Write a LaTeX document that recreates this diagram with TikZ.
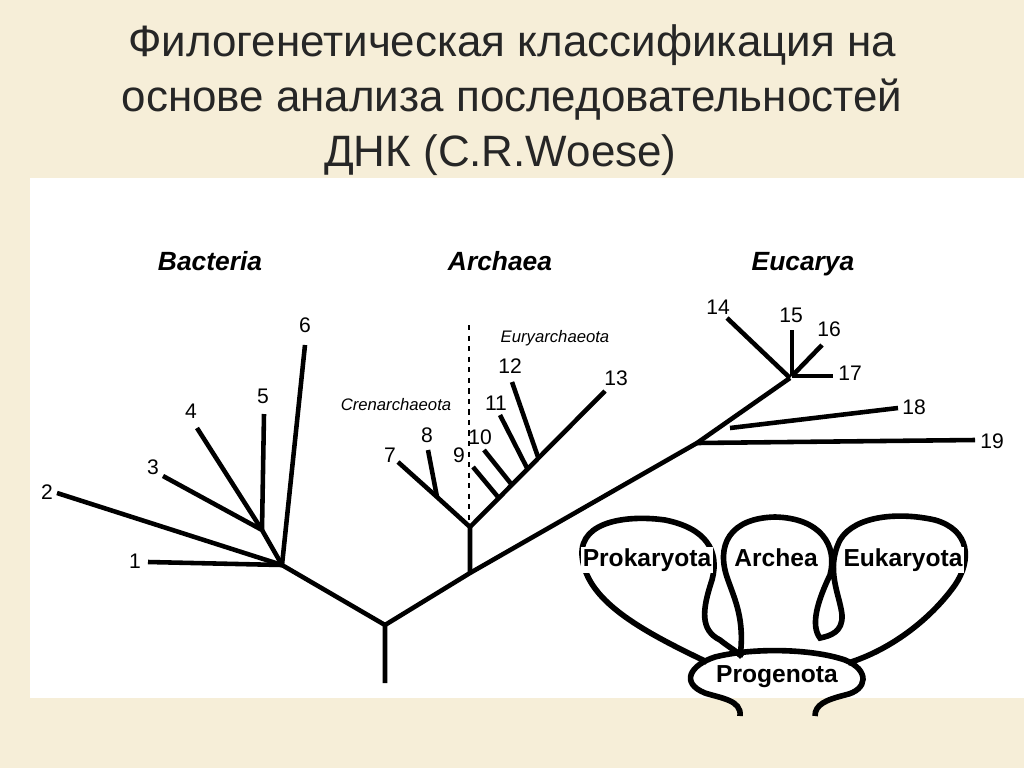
\documentclass[tikz,border=0pt]{standalone}
\usepackage{fontspec}
\setmainfont{Liberation Sans}
\begin{document}
\begin{tikzpicture}[x=0.02cm,y=-0.02cm,
  br/.style={line width=2.6pt},
  num/.style={font=\fontsize{12}{12}\selectfont},
  grp/.style={font=\fontsize{15}{15}\selectfont\bfseries\itshape,text height=11pt,text depth=3pt},
  sub/.style={font=\fontsize{9.5}{10}\selectfont\itshape},
  blob/.style={line width=3.2pt},
  bl/.style={font=\fontsize{14}{14}\selectfont\bfseries,fill=white,inner sep=1pt,text height=10pt,text depth=3pt},
  ttl/.style={font=\fontsize{25}{25}\selectfont,text=black!85}]
\fill[fill={rgb,255:red,246;green,238;blue,216}] (0,0) rectangle (1024,768);
\useasboundingbox (0,0) rectangle (1024,768);
\fill[white] (30,178) rectangle (1024,698);
\node[ttl] (t1) at (512,45) {Филогенетическая классификация на};
\node[ttl] (t2) at (512,100) {основе анализа последовательностей};
\node[ttl,anchor=west] (t3) at (318,155) {ДНК (C.R.Woese)};
% coordinates
\coordinate (root) at (385,683);
\coordinate (r) at (385,625);
\coordinate (bn) at (282,565);
\coordinate (bn2) at (262,530);
\coordinate (an) at (470,573);
\coordinate (an2) at (470,527);
\coordinate (cn) at (437,497);
\coordinate (en) at (697,443);
\coordinate (en2) at (790,378);
\coordinate (l1) at (148,562); \coordinate (l2) at (57,493);
\coordinate (l3) at (163,476); \coordinate (l4) at (197,428);
\coordinate (l5) at (264,414); \coordinate (l6) at (305,345);
\coordinate (l7) at (398,462); \coordinate (l8) at (428,450);
\coordinate (l9) at (473,467); \coordinate (l10) at (484,450);
\coordinate (l11) at (500,415); \coordinate (l12) at (512,382);
\coordinate (l13) at (605,391);
\coordinate (l14) at (727,318); \coordinate (l15) at (792,330);
\coordinate (l16) at (822,345); \coordinate (l17) at (833,376);
\coordinate (l18) at (898,408); \coordinate (l19) at (975,440);
\coordinate (e9) at (498,497); \coordinate (e10) at (512,485);
\coordinate (e11) at (527,468); \coordinate (e12) at (538,457);
\coordinate (e18) at (730,428); \coordinate (e15) at (792,376);
% tree
\draw[br] (root) -- (r) -- (bn);
\draw[br] (r) -- (an) -- (en) -- (en2);
\draw[br] (bn) -- (l1); \draw[br] (bn) -- (l2);
\draw[br] (bn) -- (bn2) -- (l3); \draw[br] (bn2) -- (l4); \draw[br] (bn2) -- (l5);
\draw[br] (bn) -- (l6);
\draw[br] (an) -- (an2) -- (cn) -- (l7); \draw[br] (cn) -- (l8);
\draw[br] (an2) -- (l13);
\draw[br] (e9) -- (l9); \draw[br] (e10) -- (l10); \draw[br] (e11) -- (l11); \draw[br] (e12) -- (l12);
\draw[br] (en) -- (l19); \draw[br] (e18) -- (l18);
\draw[br] (en2) -- (l14); \draw[br] (e15) -- (l15); \draw[br] (e15) -- (l16); \draw[br] (e15) -- (l17);
\draw[dashed,line width=0.8pt] (469,325) -- (469,520);
% labels
\node[num] (n1) at (135,561) {1}; \node[num] (n2) at (47,492) {2};
\node[num] (n3) at (153,467) {3}; \node[num] (n4) at (191,411) {4};
\node[num] (n5) at (263,396) {5}; \node[num] (n6) at (305,325) {6};
\node[num] (n7) at (390,455) {7}; \node[num] (n8) at (427,435) {8};
\node[num] (n9) at (459,455) {9}; \node[num] (n10) at (480,437) {10};
\node[num] (n11) at (496,403) {11}; \node[num] (n12) at (510,366) {12};
\node[num] (n13) at (616,378) {13}; \node[num] (n14) at (718,307) {14};
\node[num] (n15) at (791,315) {15}; \node[num] (n16) at (829,329) {16};
\node[num] (n17) at (850,373) {17}; \node[num] (n18) at (914,407) {18};
\node[num] (n19) at (992,441) {19};
\node[grp] (gb) at (210,263) {Bacteria};
\node[grp] (ga) at (500,263) {Archaea};
\node[grp] (ge) at (803,263) {Eucarya};
\node[sub] (sc) at (396,405) {Crenarchaeota};
\node[sub] (se) at (555,338) {Euryarchaeota};
% blobs
\draw[blob] (707,662) .. controls (640,630) and (585,600) .. (582,555)
  .. controls (580,520) and (630,515) .. (665,520)
  .. controls (705,528) and (720,550) .. (712,580)
  .. controls (702,610) and (700,630) .. (720,640)
  .. controls (730,648) and (738,652) .. (742,657);
\draw[blob] (740,657) .. controls (745,620) and (735,600) .. (728,580)
  .. controls (715,545) and (730,518) .. (775,517)
  .. controls (820,518) and (838,545) .. (830,575)
  .. controls (818,600) and (810,625) .. (820,638)
  .. controls (830,636) and (843,632) .. (842,615)
  .. controls (840,595) and (825,570) .. (840,540)
  .. controls (855,515) and (900,512) .. (935,520)
  .. controls (970,530) and (972,560) .. (955,585)
  .. controls (930,620) and (890,650) .. (848,663);
\draw[blob] (740,716) .. controls (742,700) and (720,698) .. (705,693)
  .. controls (680,683) and (690,665) .. (715,657)
  .. controls (750,648) and (810,648) .. (845,660)
  .. controls (870,670) and (868,690) .. (845,695)
  .. controls (825,700) and (815,705) .. (815,716);
\node[bl] (pk) at (647,560) {Prokaryota};
\node[bl] (ar) at (776,560) {Archea};
\node[bl] (eu) at (903,560) {Eukaryota};
\node[font=\fontsize{14}{14}\selectfont\bfseries] (pg) at (777,677) {Progenota};
\end{tikzpicture}
\end{document}
